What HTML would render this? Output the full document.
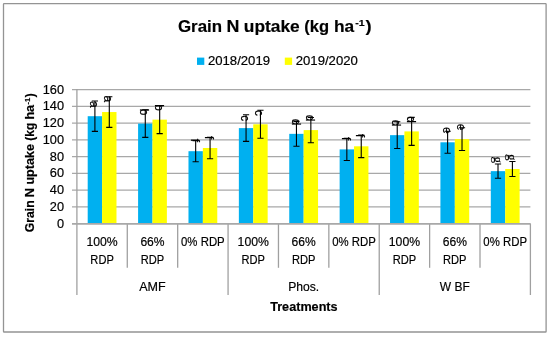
<!DOCTYPE html>
<html lang="en"><head><meta charset="utf-8"><title>Grain N uptake</title>
<style>html,body{margin:0;padding:0;background:#fff}body{width:550px;height:337px;overflow:hidden}svg{display:block}text{font-family:"Liberation Sans",sans-serif;fill:#000;stroke:#000;stroke-width:.18px}</style>
</head><body>
<svg width="550" height="337" viewBox="0 0 550 337">
<rect x="0" y="0" width="550" height="337" fill="#fff"/>
<rect x="3.5" y="3.55" width="542.6" height="328.45" rx="0.6" fill="none" stroke="#949494" stroke-width="1.3"/>
<g stroke="#a0a0a0" stroke-width="1.3" fill="none">
<line x1="72" y1="223.7" x2="530.4" y2="223.7" stroke="#a8a8a8" stroke-width="1.35"/>
<line x1="72" y1="206.93" x2="530.4" y2="206.93" stroke="#a8a8a8" stroke-width="1.35"/>
<line x1="72" y1="190.16" x2="530.4" y2="190.16" stroke="#a8a8a8" stroke-width="1.35"/>
<line x1="72" y1="173.39" x2="530.4" y2="173.39" stroke="#a8a8a8" stroke-width="1.35"/>
<line x1="72" y1="156.62" x2="530.4" y2="156.62" stroke="#a8a8a8" stroke-width="1.35"/>
<line x1="72" y1="139.86" x2="530.4" y2="139.86" stroke="#a8a8a8" stroke-width="1.35"/>
<line x1="72" y1="123.09" x2="530.4" y2="123.09" stroke="#a8a8a8" stroke-width="1.35"/>
<line x1="72" y1="106.32" x2="530.4" y2="106.32" stroke="#a8a8a8" stroke-width="1.35"/>
<line x1="72" y1="89.55" x2="530.4" y2="89.55" stroke="#a8a8a8" stroke-width="1.35"/>
<line x1="76.9" y1="89" x2="76.9" y2="295"/>
<line x1="127.29" y1="223.7" x2="127.29" y2="267.8"/>
<line x1="177.68" y1="223.7" x2="177.68" y2="267.8"/>
<line x1="228.07" y1="223.7" x2="228.07" y2="295"/>
<line x1="278.46" y1="223.7" x2="278.46" y2="267.8"/>
<line x1="328.84" y1="223.7" x2="328.84" y2="267.8"/>
<line x1="379.23" y1="223.7" x2="379.23" y2="295"/>
<line x1="429.62" y1="223.7" x2="429.62" y2="267.8"/>
<line x1="480.01" y1="223.7" x2="480.01" y2="267.8"/>
<line x1="530.4" y1="223.7" x2="530.4" y2="295"/>
</g>
<g shape-rendering="auto">
<rect x="87.7" y="116.2" width="14.4" height="107.5" fill="#00B0F0"/>
<rect x="102.09" y="112.05" width="14.4" height="111.65" fill="#FFFF00"/>
<rect x="138.09" y="123.6" width="14.4" height="100.1" fill="#00B0F0"/>
<rect x="152.48" y="119.65" width="14.4" height="104.05" fill="#FFFF00"/>
<rect x="188.48" y="151.2" width="14.4" height="72.5" fill="#00B0F0"/>
<rect x="202.87" y="148" width="14.4" height="75.7" fill="#FFFF00"/>
<rect x="238.86" y="128.1" width="14.4" height="95.6" fill="#00B0F0"/>
<rect x="253.26" y="124.3" width="14.4" height="99.4" fill="#FFFF00"/>
<rect x="289.25" y="133.85" width="14.4" height="89.85" fill="#00B0F0"/>
<rect x="303.65" y="130.1" width="14.4" height="93.6" fill="#FFFF00"/>
<rect x="339.64" y="149.4" width="14.4" height="74.3" fill="#00B0F0"/>
<rect x="354.04" y="146.3" width="14.4" height="77.4" fill="#FFFF00"/>
<rect x="390.03" y="135.15" width="14.4" height="88.55" fill="#00B0F0"/>
<rect x="404.43" y="131.4" width="14.4" height="92.3" fill="#FFFF00"/>
<rect x="440.42" y="142.3" width="14.4" height="81.4" fill="#00B0F0"/>
<rect x="454.82" y="139.15" width="14.4" height="84.55" fill="#FFFF00"/>
<rect x="490.81" y="171.15" width="14.4" height="52.55" fill="#00B0F0"/>
<rect x="505.21" y="169" width="14.4" height="54.7" fill="#FFFF00"/>
</g>
<line x1="72" y1="223.7" x2="530.4" y2="223.7" stroke="#a8a8a8" stroke-width="1.35"/>
<g stroke="#000" stroke-width="1.1" fill="none">
<path d="M94.9 101V131.4M91.8 101H98M91.8 131.4H98"/>
<path d="M109.29 96.7V127.4M106.19 96.7H112.39M106.19 127.4H112.39"/>
<path d="M145.28 109.8V137.4M142.18 109.8H148.38M142.18 137.4H148.38"/>
<path d="M159.68 105.65V133.65M156.58 105.65H162.78M156.58 133.65H162.78"/>
<path d="M195.67 140.6V161.8M192.57 140.6H198.77M192.57 161.8H198.77"/>
<path d="M210.07 137.3V158.7M206.97 137.3H213.17M206.97 158.7H213.17"/>
<path d="M246.06 114.8V141.4M242.96 114.8H249.16M242.96 141.4H249.16"/>
<path d="M260.46 110.3V138.3M257.36 110.3H263.56M257.36 138.3H263.56"/>
<path d="M296.45 121.4V146.3M293.35 121.4H299.55M293.35 146.3H299.55"/>
<path d="M310.85 117.45V142.75M307.75 117.45H313.95M307.75 142.75H313.95"/>
<path d="M346.84 138.35V160.45M343.74 138.35H349.94M343.74 160.45H349.94"/>
<path d="M361.24 135V157.6M358.14 135H364.34M358.14 157.6H364.34"/>
<path d="M397.23 121.8V148.5M394.13 121.8H400.33M394.13 148.5H400.33"/>
<path d="M411.63 117.4V145.4M408.53 117.4H414.73M408.53 145.4H414.73"/>
<path d="M447.62 131.3V153.3M444.52 131.3H450.72M444.52 153.3H450.72"/>
<path d="M462.02 127.75V150.55M458.92 127.75H465.12M458.92 150.55H465.12"/>
<path d="M498.01 164V178.3M494.91 164H501.11M494.91 178.3H501.11"/>
<path d="M512.4 161.5V176.5M509.3 161.5H515.5M509.3 176.5H515.5"/>
</g>
<g font-size="11.9">
<text transform="translate(90.2 101.1) rotate(90)">a</text>
<text transform="translate(104 95.6) rotate(90)">a</text>
<text transform="translate(140.2 108.7) rotate(90)">b</text>
<text transform="translate(154.5 104.2) rotate(90)">b</text>
<text transform="translate(191.1 138.8) rotate(90)">f</text>
<text transform="translate(205.4 135.9) rotate(90)">f</text>
<text transform="translate(241.1 115.3) rotate(90)">c</text>
<text transform="translate(255.4 110.1) rotate(90)">c</text>
<text transform="translate(291.6 118.8) rotate(90)">d</text>
<text transform="translate(306.3 114.8) rotate(90)">d</text>
<text transform="translate(342.4 137.1) rotate(90)">f</text>
<text transform="translate(356.4 133.95) rotate(90)">f</text>
<text transform="translate(392.4 119.7) rotate(90)">d</text>
<text transform="translate(407.3 116.2) rotate(90)">d</text>
<text transform="translate(443.1 127.1) rotate(90)">e</text>
<text transform="translate(457.4 123.7) rotate(90)">e</text>
<text transform="translate(493.58 156.6) rotate(90)" style="font-family:'Liberation Serif',serif;font-size:13px">g</text>
<text transform="translate(507.78 153.9) rotate(90)" style="font-family:'Liberation Serif',serif;font-size:13px">g</text>
</g>
<g font-weight="bold" font-size="17.4">
<text x="178" y="32.2" textLength="44.03" lengthAdjust="spacingAndGlyphs">Grain</text>
<text x="226.47" y="32.2" textLength="12.91" lengthAdjust="spacingAndGlyphs">N</text>
<text x="243.81" y="32.2" textLength="55.97" lengthAdjust="spacingAndGlyphs">uptake</text>
<text x="304.22" y="32.2" textLength="24.81" lengthAdjust="spacingAndGlyphs">(kg</text>
<text x="333.95" y="32.2" textLength="20.19" lengthAdjust="spacingAndGlyphs">ha</text>
<text x="355.2" y="26.3" font-size="9.8" textLength="9.4" lengthAdjust="spacingAndGlyphs">-1</text>
<text x="365.5" y="32.2" textLength="6.11" lengthAdjust="spacingAndGlyphs">)</text>
</g>
<rect x="197" y="57.6" width="7.3" height="7.3" fill="#00B0F0"/>
<rect x="284.8" y="57.6" width="7.3" height="7.3" fill="#FFFF00"/>
<g font-size="12.2">
<text x="207.9" y="65.25" textLength="62.19" lengthAdjust="spacingAndGlyphs">2018/2019</text>
<text x="295.7" y="65.25" textLength="62.19" lengthAdjust="spacingAndGlyphs">2019/2020</text>
<text x="56.9" y="227.8" textLength="7.1" lengthAdjust="spacingAndGlyphs">0</text>
<text x="49.8" y="211.03" textLength="14.2" lengthAdjust="spacingAndGlyphs">20</text>
<text x="49.8" y="194.26" textLength="14.2" lengthAdjust="spacingAndGlyphs">40</text>
<text x="49.8" y="177.49" textLength="14.2" lengthAdjust="spacingAndGlyphs">60</text>
<text x="49.8" y="160.72" textLength="14.2" lengthAdjust="spacingAndGlyphs">80</text>
<text x="42.7" y="143.96" textLength="21.3" lengthAdjust="spacingAndGlyphs">100</text>
<text x="42.7" y="127.19" textLength="21.3" lengthAdjust="spacingAndGlyphs">120</text>
<text x="42.7" y="110.42" textLength="21.3" lengthAdjust="spacingAndGlyphs">140</text>
<text x="42.7" y="93.65" textLength="21.3" lengthAdjust="spacingAndGlyphs">160</text>
</g>
<g font-size="12.7">
<text x="86.44" y="246.4" textLength="31.3" lengthAdjust="spacingAndGlyphs">100%</text>
<text x="90.37" y="263.5" textLength="23.45" lengthAdjust="spacingAndGlyphs">RDP</text>
<text x="140.38" y="246.4" textLength="24.2" lengthAdjust="spacingAndGlyphs">66%</text>
<text x="140.76" y="263.5" textLength="23.45" lengthAdjust="spacingAndGlyphs">RDP</text>
<text x="181.04" y="246.4" textLength="43.67" lengthAdjust="spacingAndGlyphs">0% RDP</text>
<text x="237.61" y="246.4" textLength="31.3" lengthAdjust="spacingAndGlyphs">100%</text>
<text x="241.54" y="263.5" textLength="23.45" lengthAdjust="spacingAndGlyphs">RDP</text>
<text x="291.55" y="246.4" textLength="24.2" lengthAdjust="spacingAndGlyphs">66%</text>
<text x="291.92" y="263.5" textLength="23.45" lengthAdjust="spacingAndGlyphs">RDP</text>
<text x="332.2" y="246.4" textLength="43.67" lengthAdjust="spacingAndGlyphs">0% RDP</text>
<text x="388.78" y="246.4" textLength="31.3" lengthAdjust="spacingAndGlyphs">100%</text>
<text x="392.7" y="263.5" textLength="23.45" lengthAdjust="spacingAndGlyphs">RDP</text>
<text x="442.72" y="246.4" textLength="24.2" lengthAdjust="spacingAndGlyphs">66%</text>
<text x="443.09" y="263.5" textLength="23.45" lengthAdjust="spacingAndGlyphs">RDP</text>
<text x="483.37" y="246.4" textLength="43.67" lengthAdjust="spacingAndGlyphs">0% RDP</text>
<text x="139.22" y="290.9" textLength="26.52" lengthAdjust="spacingAndGlyphs">AMF</text>
<text x="288.16" y="290.9" textLength="30.98" lengthAdjust="spacingAndGlyphs">Phos.</text>
<text x="439.82" y="290.9" textLength="30" lengthAdjust="spacingAndGlyphs">W BF</text>
</g>
<g font-weight="bold" font-size="12.2">
<text x="270.2" y="310.9" textLength="67.4" lengthAdjust="spacingAndGlyphs">Treatments</text>
<g transform="translate(33.9 232.3) rotate(-90)">
<text x="0" y="0" textLength="31.92" lengthAdjust="spacingAndGlyphs">Grain</text>
<text x="35.15" y="0" textLength="9.37" lengthAdjust="spacingAndGlyphs">N</text>
<text x="47.74" y="0" textLength="40.58" lengthAdjust="spacingAndGlyphs">uptake</text>
<text x="91.54" y="0" textLength="17.99" lengthAdjust="spacingAndGlyphs">(kg</text>
<text x="112.75" y="0" textLength="14.66" lengthAdjust="spacingAndGlyphs">ha</text>
<text x="127.89" y="-4.2" font-size="6.6" textLength="6.8" lengthAdjust="spacingAndGlyphs">-1</text>
<text x="134.8" y="0" textLength="4.38" lengthAdjust="spacingAndGlyphs">)</text>
</g></g>
</svg>
</body></html>
